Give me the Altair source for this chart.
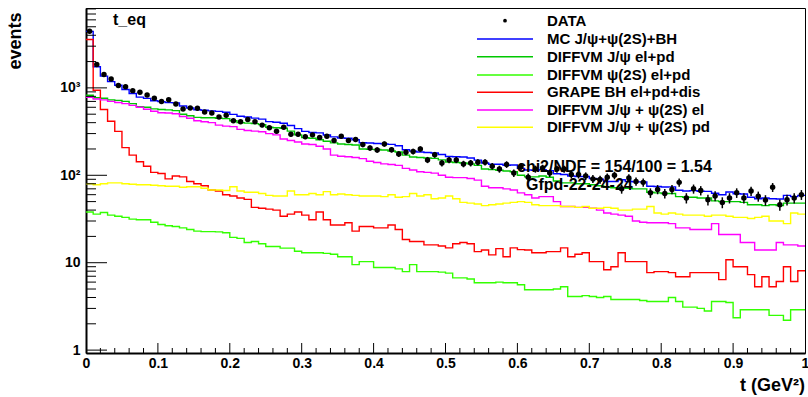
import altair as alt
import pandas as pd

# ---------------- data (100 bins, t from 0 to 1) ----------------
bin_edges = [round(i * 0.01, 2) for i in range(101)]

data_counts = [4450, 1850, 1420, 1260, 1065, 1030, 930, 890, 830, 760,
               700, 730, 655, 575, 590, 585, 530, 515, 465, 485,
               420, 410, 435, 410, 375, 350, 320, 355, 295, 295,
               276, 290, 270, 280, 250, 280, 250, 256, 225, 205,
               195, 228, 196, 175, 183, 187, 200, 150, 172, 138,
               150, 150, 135, 138, 141, 141, 127, 118, 133, 106,
               125, 95, 118, 121, 106, 118, 118, 102, 102, 98,
               91, 89.5, 95, 100, 70, 93, 85, 83, 63, 69,
               62, 69, 83, 55, 70, 67, 52.5, 58, 49, 55,
               63, 55, 66, 57.5, 52, 73, 46, 52.5, 55, 60]

mc_total = [4430, 1746, 1362, 1180, 1072, 960, 862, 784, 758, 712,
            697, 678, 674, 621, 589, 563, 554, 546, 539, 527,
            498, 474, 465, 451, 439, 411, 405, 394, 371, 342,
            318, 309, 306, 289, 275, 267, 265, 255, 236, 234,
            231, 229, 226, 218, 196, 189, 185, 182, 180, 173,
            164, 163, 162, 158, 149, 138, 134, 134, 130, 131,
            120, 115, 114, 116, 113, 104, 102, 98, 97, 97,
            92, 90, 85, 85, 89, 85, 84, 84, 75, 74.5,
            73.5, 73.7, 67.5, 66, 66.8, 65.7, 65.5, 62.3, 60, 64.3,
            61.4, 61, 56, 54, 55, 54, 53.6, 59, 57, 59]

jpsi_elpd = [823, 770, 760, 730, 720, 700, 660, 610, 600, 575,
             565, 560, 550, 500, 480, 460, 455, 455, 450, 445,
             420, 400, 395, 390, 380, 355, 350, 345, 320, 290,
             270, 265, 255, 245, 235, 228, 225, 222, 200, 198,
             197, 195, 190, 185, 170, 162, 160, 158, 156, 150,
             142, 140, 138, 135, 130, 118, 116, 114, 112, 110,
             100, 96, 96, 98, 95, 86, 82, 82, 80, 80,
             78, 76, 73, 72, 72, 71, 70, 70, 64, 63,
             62, 62, 57, 56, 56, 55, 55, 51, 50, 50,
             50, 49, 46, 46, 45, 46, 45, 48, 48, 48]

psi2s_elpd = [38, 36, 37.5, 35, 34, 33, 31.5, 31, 31, 29,
              27.4, 26.5, 26, 25, 24, 23, 22.7, 22.7, 22.5, 22,
              19.5, 19, 17, 17.5, 16.5, 15.3, 15.3, 14.7, 14.7, 13.5,
              13, 13, 13, 12.8, 12.5, 11.7, 11.7, 9.5, 10.3, 10.3,
              8.8, 8.8, 8.8, 8.5, 7.9, 9.5, 7.9, 7.9, 7.9, 7.8,
              7.6, 6.7, 6.7, 6.5, 5.9, 5.9, 5.9, 6.0, 5.9, 5.9,
              5.6, 4.9, 4.9, 4.9, 4.9, 5.0, 5.3, 4.1, 4.1, 4.2,
              4.1, 4.0, 4.1, 3.8, 3.8, 3.8, 3.8, 3.7, 3.6, 3.6,
              3.6, 4.0, 3.6, 3.1, 3.1, 3.0, 2.8, 3.6, 3.6, 3.5,
              2.35, 2.9, 2.9, 2.9, 2.9, 2.5, 2.5, 2.2, 2.9, 2.9]

grape_bh = [3570, 940, 565, 415, 318, 207, 170, 143, 127, 108,
            105, 91, 98, 96, 85, 80, 76, 68, 66, 60,
            58, 55, 53, 43, 42, 41, 40, 34, 36, 38,
            35, 31, 38, 31, 27, 27, 28.6, 23, 26, 26,
            25, 25, 27, 24, 18.4, 17.5, 17.5, 16, 16, 15.5,
            14.8, 16.5, 17, 16.5, 13.4, 14, 12.3, 14.5, 11.7, 14.8,
            14.1, 14, 13, 13, 13.4, 13.4, 14.8, 11.7, 12.5, 13,
            10.3, 10.3, 8.3, 9, 13, 10.3, 10.3, 10.3, 7.7, 7.9,
            7.9, 7.7, 6.9, 6.9, 7.7, 7.7, 7.7, 7.7, 6.4, 10.8,
            9, 9, 7.3, 5.3, 6.9, 5.3, 6.1, 9, 6.1, 8.1]

diffvm_el = [780, 745, 730, 700, 680, 660, 630, 600, 570, 540,
             520, 515, 505, 470, 450, 420, 410, 400, 375, 365,
             360, 335, 325, 320, 315, 300, 290, 260, 250, 240,
             228, 225, 215, 200, 170, 165, 163, 160, 155, 145,
             140, 135, 133, 130, 120, 115, 110, 108, 106, 100,
             95, 94, 94, 92, 88, 75, 72, 72, 70, 68,
             63, 60, 55, 57, 57, 50, 44, 44, 43, 43,
             42, 40, 37, 36, 35, 34, 30, 29, 28.7, 28.7,
             28.7, 28, 25, 25, 24, 24, 24, 28, 21, 21,
             21, 17, 17, 14, 14, 14, 17, 16, 16, 15.5]

diffvm_pd = [80, 78, 80, 82, 82, 80, 79, 78, 78, 77,
             76, 75, 75, 73, 74, 74, 71, 68, 68, 67,
             74, 66, 64, 64, 62, 59, 58, 58, 66, 60,
             60, 62, 60, 65, 60, 61, 60, 59, 58, 58,
             58, 57, 60, 56, 57, 62, 58, 60, 54, 55,
             58, 54, 49, 48, 47, 45, 46, 47, 48, 49,
             50, 49, 46, 45, 45, 45, 44, 44, 43, 44,
             42, 42, 43, 42, 40, 40, 41, 41, 44, 37,
             36, 37, 36, 35, 35, 35, 34, 35, 35, 34,
             33, 33, 32, 33, 34, 30, 30, 28, 37, 36]

series_names = ["MC J/ψ+ψ(2S)+BH", "DIFFVM J/ψ el+pd", "DIFFVM ψ(2S) el+pd",
                "GRAPE BH el+pd+dis", "DIFFVM J/ψ + ψ(2S) el", "DIFFVM J/ψ + ψ(2S) pd"]
series_values = [mc_total, jpsi_elpd, psi2s_elpd, grape_bh, diffvm_el, diffvm_pd]
series_colors = ["#0000ff", "#00c800", "#33ff00", "#ff0000", "#ff00ff", "#ffff00"]

y_major = [1, 10, 100, 1000]
y_minor = [k * 10 ** d for d in range(4) for k in range(2, 10) if k * 10 ** d <= 8200]
x_labels = [round(0.1 * i, 1) for i in range(11)]
x_major = [round(0.1 * i, 1) for i in range(1, 10)]
x_minor = [round(0.02 * i, 2) for i in range(1, 50) if i % 5 != 0]

# ---------------- tables ----------------
rows = []
for name, vals in zip(series_names, series_values):
    for i, v in enumerate(vals):
        rows.append({"t": bin_edges[i], "v": v, "s": name})
    rows.append({"t": bin_edges[-1], "v": vals[-1], "s": name})
hist = pd.DataFrame(rows)

pts = pd.DataFrame({
    "t": [bin_edges[i] + 0.005 for i in range(100)],
    "v": data_counts,
})
pts["lo"] = pts["v"] - pts["v"] ** 0.5
pts["hi"] = pts["v"] + pts["v"] ** 0.5

FONT = "Liberation Sans"
W, H = 719, 345
xs = alt.Scale(domain=[0, 1], nice=False, zero=False)
ys = alt.Scale(type="log", domain=[0.927, 8200], nice=False)

x_axis = alt.Axis(values=x_labels, format="~g", title=None,
                  ticks=False, grid=False, domain=True, domainColor="black", domainWidth=2,
                  labelFont=FONT, labelFontWeight="bold", labelFontSize=14, labelColor="black",
                  labelPadding=3, labelFlush=False, labelOverlap=False)
y_axis = alt.Axis(values=y_major, title="events", ticks=False, grid=False, domain=True,
                  domainColor="black", domainWidth=2,
                  labelExpr="datum.value == 1 ? '1' : datum.value == 10 ? '10' : datum.value == 100 ? '10²' : '10³'",
                  labelFont=FONT, labelFontWeight="bold", labelFontSize=14, labelColor="black",
                  labelPadding=6, labelFlush=False, labelOverlap=False,
                  titleFont=FONT, titleFontWeight="bold", titleFontSize=18, titleColor="black",
                  titleAngle=270, titleAnchor="end", titleAlign="right", titleBaseline="middle",
                  titleX=-71, titleY=4)

lines = alt.Chart(hist).mark_line(interpolate="step-after", strokeWidth=1.4, clip=True).encode(
    x=alt.X("t:Q", scale=xs, axis=x_axis),
    y=alt.Y("v:Q", scale=ys, axis=y_axis),
    color=alt.Color("s:N", scale=alt.Scale(domain=series_names, range=series_colors), legend=None),
)

errbars = alt.Chart(pts).mark_rule(color="black", strokeWidth=1.5, clip=True).encode(
    x=alt.X("t:Q", scale=xs, axis=x_axis),
    y=alt.Y("lo:Q", scale=ys, axis=y_axis),
    y2="hi:Q",
)
dots = alt.Chart(pts).mark_circle(color="black", size=30, opacity=1, clip=True).encode(
    x=alt.X("t:Q", scale=xs, axis=x_axis),
    y=alt.Y("v:Q", scale=ys, axis=y_axis),
)

# inward ticks (ROOT style)
ymaj = alt.Chart(pd.DataFrame({"v": y_major})).mark_rule(color="black", strokeWidth=1).encode(
    y=alt.Y("v:Q", scale=ys, axis=y_axis), x=alt.value(0), x2=alt.value(21))
ymin = alt.Chart(pd.DataFrame({"v": y_minor})).mark_rule(color="black", strokeWidth=1).encode(
    y=alt.Y("v:Q", scale=ys, axis=y_axis), x=alt.value(0), x2=alt.value(10))
xmaj = alt.Chart(pd.DataFrame({"v": x_major})).mark_rule(color="black", strokeWidth=1).encode(
    x=alt.X("v:Q", scale=xs, axis=x_axis), y=alt.value(H), y2=alt.value(H - 10))
xmin = alt.Chart(pd.DataFrame({"v": x_minor})).mark_rule(color="black", strokeWidth=1).encode(
    x=alt.X("v:Q", scale=xs, axis=x_axis), y=alt.value(H), y2=alt.value(H - 5))

# legend (manual, ROOT TLegend style)
leg_rows_y = [12.7, 31, 48.7, 67, 84.3, 102, 119.3]
leg_labels = ["DATA"] + series_names
leg = pd.DataFrame({"label": leg_labels, "ly": leg_rows_y})
leg_lines = pd.DataFrame({"s": series_names, "ly": leg_rows_y[1:]})
leg_line_marks = alt.Chart(leg_lines).mark_rule(strokeWidth=1.5).encode(
    x=alt.value(391), x2=alt.value(447), y=alt.Y("ly:Q", scale=None),
    color=alt.Color("s:N", scale=alt.Scale(domain=series_names, range=series_colors), legend=None))
leg_dot = alt.Chart(leg.iloc[:1]).mark_circle(color="black", size=14, opacity=1).encode(
    x=alt.value(419), y=alt.Y("ly:Q", scale=None))
leg_text = alt.Chart(leg).mark_text(align="left", baseline="middle", font=FONT, fontWeight="bold",
                                    fontSize=15, color="black").encode(
    x=alt.value(461), y=alt.Y("ly:Q", scale=None), text="label:N")

one = pd.DataFrame({"a": [0]})
def label(txt, x, y, size, align="left", baseline="alphabetic"):
    return alt.Chart(one).mark_text(text=txt, align=align, baseline=baseline,
                                    font=FONT, fontWeight="bold", fontSize=size, color="black").encode(
        x=alt.value(x), y=alt.value(y))

texts = [
    label("t_eq", 27, 17, 16),
    label("chi2/NDF = 154/100 = 1.54", 431, 164, 16),
    label("Gfpd-22-24-24", 440, 182, 16),
    label("t (GeV²)", 719, 383, 18, align="right"),
]

chart = alt.layer(lines, ymaj, ymin, xmaj, xmin, errbars, dots,
                  leg_line_marks, leg_dot, leg_text, *texts).properties(
    width=W, height=H,
    autosize=alt.AutoSizeParams(type="none"),
    padding={"left": 86, "top": 8, "right": 3, "bottom": 44},
    background="white",
).configure_view(stroke="black", strokeWidth=1)

chart.save("out.html", embed_options={"renderer": "svg", "actions": False})
